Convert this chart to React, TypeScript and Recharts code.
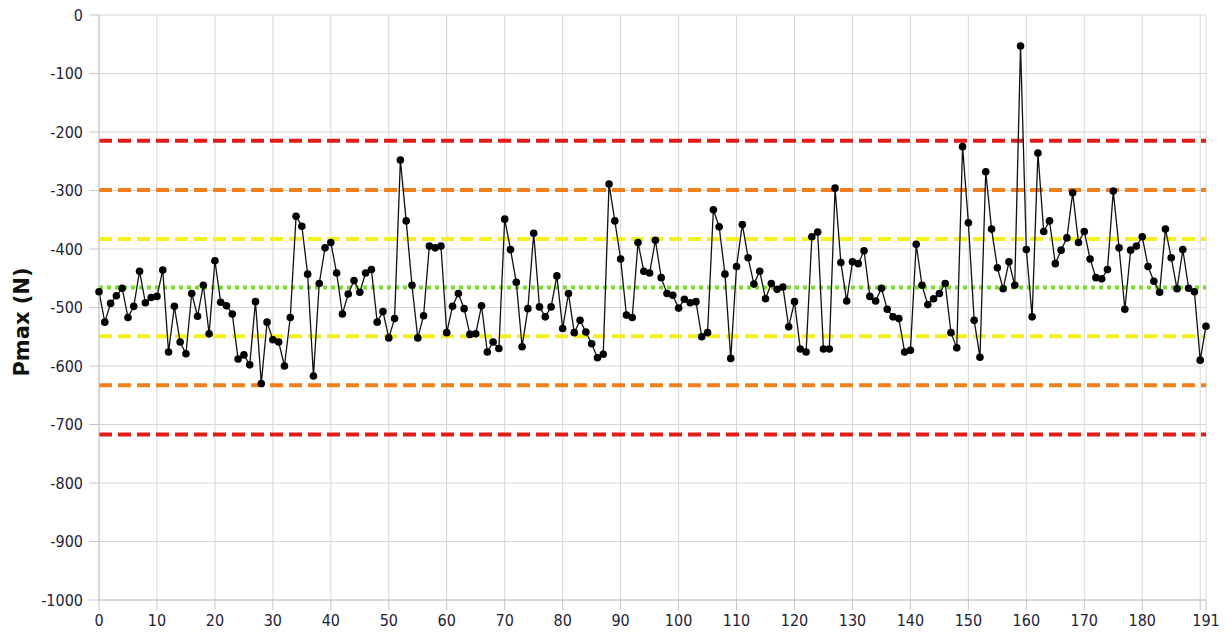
import React from 'react';
import { LineChart, Line, XAxis, YAxis, CartesianGrid, ReferenceLine, Label } from 'recharts';

// Pmax per sample (N)
const pmax = [
  -473, -525, -493, -480, -467, -517, -498, -438, -492, -483,
  -481, -436, -576, -498, -559, -579, -476, -515, -462, -545,
  -420, -491, -497, -511, -588, -581, -598, -490, -630, -525,
  -555, -559, -600, -517, -344, -361, -443, -617, -459, -398,
  -389, -441, -511, -477, -454, -474, -441, -435, -525, -507,
  -552, -519, -248, -352, -462, -552, -514, -395, -398, -395,
  -543, -498, -476, -502, -546, -545, -497, -576, -559, -570,
  -349, -401, -457, -567, -502, -373, -499, -516, -499, -446,
  -536, -476, -543, -522, -542, -562, -586, -580, -289, -352,
  -417, -513, -517, -389, -438, -441, -385, -449, -476, -479,
  -501, -486, -492, -490, -550, -543, -333, -362, -443, -587,
  -430, -358, -415, -460, -438, -485, -459, -469, -465, -533,
  -490, -571, -576, -379, -371, -571, -571, -296, -423, -489,
  -422, -425, -403, -481, -489, -467, -503, -516, -519, -576,
  -573, -392, -462, -495, -485, -476, -459, -543, -569, -225,
  -355, -522, -585, -268, -366, -432, -468, -422, -462, -53,
  -401, -516, -236, -370, -352, -425, -402, -381, -304, -389,
  -370, -417, -449, -451, -435, -301, -398, -503, -402, -395,
  -379, -430, -455, -474, -366, -415, -468, -401, -467, -473,
  -590, -532,
];

const xTicks = [0, 10, 20, 30, 40, 50, 60, 70, 80, 90, 100, 110, 120, 130, 140, 150, 160, 170, 180, 190, 191];
const yTicks = [0, -100, -200, -300, -400, -500, -600, -700, -800, -900, -1000];

// control limits
const redLimits = [-215, -717];
const orangeLimits = [-299, -633];
const yellowLimits = [-383, -549];
const meanLevel = -466;

const samples = pmax.map((value, i) => ({ i, value }));

const tickStyle = {
  fontSize: 16,
  fill: '#1e1e36',
  fontFamily: "'DejaVu Sans Condensed', 'DejaVu Sans', sans-serif",
  fontStretch: 'condensed',
};

const renderTitle = () => (
  <text
    x={22}
    y={322}
    transform="rotate(-90 22 322)"
    textAnchor="middle"
    dominantBaseline="central"
    fontSize={21}
    fontWeight="bold"
    fontFamily="'DejaVu Sans', sans-serif"
    fill="#111"
  >
    Pmax (N)
  </text>
);

export default function App() {
  return (
    <div style={{ width: 1228, height: 635, background: '#fff' }}>
      <style>{'body{margin:0}'}</style>
      <LineChart
        width={1228}
        height={635}
        data={samples}
        margin={{ top: 15, right: 22, bottom: 0, left: 0 }}
      >
        <CartesianGrid stroke="#d6d6d6" />
        <XAxis
          dataKey="i"
          type="number"
          domain={[0, 191]}
          ticks={xTicks}
          interval={0}
          tickFormatter={(v) => (v === 190 ? '' : String(v))}
          height={35}
          tickSize={10}
          tickMargin={5}
          stroke="#c4c4c4"
          tick={tickStyle}
        />
        <YAxis
          type="number"
          domain={[-1000, 0]}
          ticks={yTicks}
          interval={0}
          width={99}
          tickSize={10}
          tickMargin={6}
          stroke="#c4c4c4"
          tick={tickStyle}
        >
          <Label content={renderTitle} />
        </YAxis>
        {redLimits.map((y) => (
          <ReferenceLine key={`r${y}`} y={y} stroke="#e31b1b" strokeWidth={4} strokeDasharray="13 6" />
        ))}
        {orangeLimits.map((y) => (
          <ReferenceLine key={`o${y}`} y={y} stroke="#f07f1c" strokeWidth={4} strokeDasharray="13 6" />
        ))}
        {yellowLimits.map((y) => (
          <ReferenceLine key={`y${y}`} y={y} stroke="#f2f01e" strokeWidth={4} strokeDasharray="13 6" />
        ))}
        <ReferenceLine y={meanLevel} stroke="#78dc28" strokeWidth={4} strokeDasharray="4 4" />
        <Line
          dataKey="value"
          type="linear"
          stroke="#111"
          strokeWidth={1.3}
          dot={{ r: 3.8, fill: '#000', stroke: '#000', strokeWidth: 0 }}
          isAnimationActive={false}
        />
      </LineChart>
    </div>
  );
}
